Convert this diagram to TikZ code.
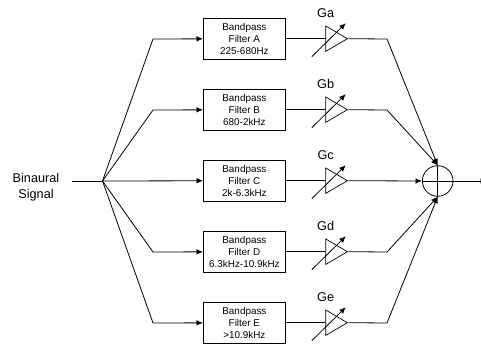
\documentclass[tikz,border=0pt]{standalone}
\usepackage{fontspec}
\setmainfont{Liberation Sans}
\usetikzlibrary{shapes.geometric, positioning, arrows.meta}

\begin{document}
\begin{tikzpicture}[
    x=1pt, y=1pt,
    node distance=29.2pt,
    filter/.style={rectangle, minimum width=82pt, minimum height=41pt, inner sep=0pt, align=center, draw=black, line width=0.8pt, font=\fontsize{9.9}{12}\selectfont},
    amp/.style={isosceles triangle, isosceles triangle stretches, minimum width=25.5pt, minimum height=21.7pt, inner sep=0pt, draw=black, line width=0.7pt},
    gainlabel/.style={font=\fontsize{12.7}{15}\selectfont, inner sep=0pt},
    summer/.style={circle, minimum size=30.6pt, inner sep=0pt, draw=black, line width=0.8pt},
    arrow/.style={line width=0.8pt, -{Latex[length=6.5pt,width=5.5pt]}},
    line/.style={line width=0.8pt},
]
\useasboundingbox (0,0) rectangle (481,-344);

% Filter blocks
\node[filter] (filtera) at (244.4,-38.7) {Bandpass\\Filter A\\225-680Hz};
\node[filter, below=of filtera] (filterb) {Bandpass\\Filter B\\680-2kHz};
\node[filter, below=of filterb] (filterc) {Bandpass\\Filter C\\2k-6.3kHz};
\node[filter, below=of filterc] (filterd) {Bandpass\\Filter D\\6.3kHz-10.9kHz};
\node[filter, below=of filterd] (filtere) {Bandpass\\Filter E\\>10.9kHz};

% Gain stages
\node[amp, right=39.5pt of filtera] (ampa) {};
\node[amp, right=39.5pt of filterb] (ampb) {};
\node[amp, right=39.5pt of filterc] (ampc) {};
\node[amp, right=39.5pt of filterd] (ampd) {};
\node[amp, right=39.5pt of filtere] (ampe) {};

% Gain labels
\node[gainlabel] (ga) at (325.7,-12.7) {Ga};
\node[gainlabel] (gb) at (325.7,-83.7) {Gb};
\node[gainlabel] (gc) at (325.7,-154.7) {Gc};
\node[gainlabel] (gd) at (325.7,-225.7) {Gd};
\node[gainlabel] (ge) at (325.7,-296.7) {Ge};

% Input side
\node[align=center, inner sep=0pt, font=\fontsize{12.7}{16}\selectfont] (input) at (36,-187) {Binaural\\Signal};
\coordinate (start) at (71.7,-181);
\coordinate (split) at (102.5,-181);
\coordinate (ina) at (153,-39);
\coordinate (inb) at (153,-110);
\coordinate (ind) at (153,-252);
\coordinate (ine) at (153,-323);

% Summing junction
\node[summer] (sum) at (437.7,-181) {};
\coordinate (outa) at (387,-39);
\coordinate (outb) at (387,-110);
\coordinate (outd) at (387,-252);
\coordinate (oute) at (387,-323);
\coordinate (output) at (487,-181);

% Draw the input fan
\draw[line] (start) -- (split);
\draw[arrow] (split) -- (ina) -- (filtera);
\draw[arrow] (split) -- (inb) -- (filterb);
\draw[arrow] (split) -- (filterc);
\draw[arrow] (split) -- (ind) -- (filterd);
\draw[arrow] (split) -- (ine) -- (filtere);

% Draw filter to gain
\draw[line] (filtera) -- (ampa);
\draw[line] (filterb) -- (ampb);
\draw[line] (filterc) -- (ampc);
\draw[line] (filterd) -- (ampd);
\draw[line] (filtere) -- (ampe);

% Draw the gain arrows
\draw[arrow] ([shift={(-13.5,-18)}]ampa.west) -- ([shift={(20.5,15.5)}]ampa.west);
\draw[arrow] ([shift={(-13.5,-18)}]ampb.west) -- ([shift={(20.5,15.5)}]ampb.west);
\draw[arrow] ([shift={(-13.5,-18)}]ampc.west) -- ([shift={(20.5,15.5)}]ampc.west);
\draw[arrow] ([shift={(-13.5,-18)}]ampd.west) -- ([shift={(20.5,15.5)}]ampd.west);
\draw[arrow] ([shift={(-13.5,-18)}]ampe.west) -- ([shift={(20.5,15.5)}]ampe.west);

% Draw gain to sum
\draw[arrow] (ampa.east) -- (outa) -- (sum.north);
\draw[arrow] (ampb.east) -- (outb) -- (sum.north);
\draw[arrow] (ampc.east) -- (sum.west);
\draw[arrow] (ampd.east) -- (outd) -- (sum.south);
\draw[arrow] (ampe.east) -- (oute) -- (sum.south);
\draw[line] (sum.north) -- (sum.south);
\draw[line] (sum.west) -- (sum.east);
\draw[arrow] (sum.east) -- (output);

\end{tikzpicture}
\end{document}
